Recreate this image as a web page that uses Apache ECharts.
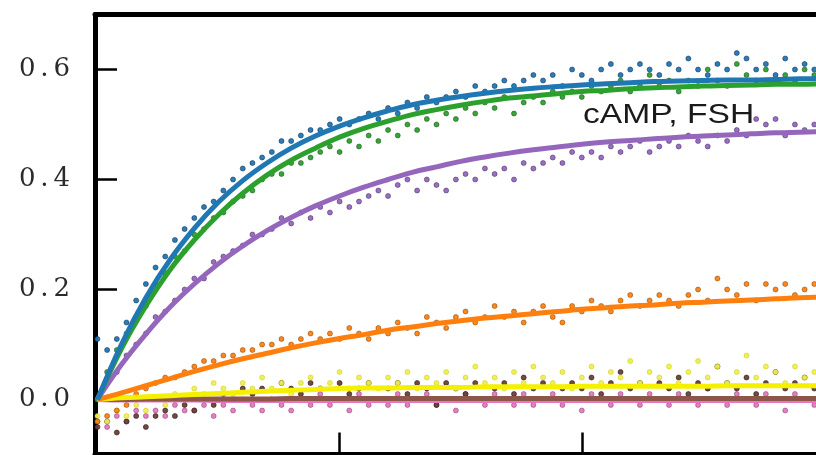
<!DOCTYPE html>
<html>
<head>
<meta charset="utf-8">
<script src="https://cdn.jsdelivr.net/npm/echarts@6/dist/echarts.min.js"></script>
<style>html,body{margin:0;padding:0;background:#fff}#c{width:816px;height:455px}</style>
</head>
<body>
<div id="c"></div>
<script>
// ---- data ----
const tScatter = [0,0.04,0.08,0.12,0.16,0.2,0.24,0.28,0.32,0.36,0.4,0.44,0.48,0.52,0.56,0.6,0.64,0.68,0.72,0.76,0.8,0.84,0.88,0.92,0.96,1.0,1.04,1.08,1.12,1.16,1.2,1.24,1.28,1.32,1.36,1.4,1.44,1.48,1.52,1.56,1.6,1.64,1.68,1.72,1.76,1.8,1.84,1.88,1.92,1.96,2.0,2.04,2.08,2.12,2.16,2.2,2.24,2.28,2.32,2.36,2.4,2.44,2.48,2.52,2.56,2.6,2.64,2.68,2.72,2.76,2.8,2.84,2.88,2.92,2.96];
const tLine = [0,0.1,0.2,0.3,0.4,0.5,0.6,0.7,0.8,0.9,1.0,1.1,1.2,1.3,1.4,1.5,1.6,1.7,1.8,1.9,2.0,2.1,2.2,2.3,2.4,2.5,2.6,2.7,2.8,2.9,3.0];

const blueDots   = [.11,.09,.11,.14,.18,.21,.24,.26,.29,.31,.33,.35,.36,.38,.40,.42,.43,.44,.45,.47,.47,.48,.49,.49,.50,.51,.50,.51,.52,.51,.53,.52,.54,.53,.55,.54,.55,.56,.55,.57,.56,.57,.58,.57,.58,.59,.58,.59,.57,.60,.59,.58,.60,.61,.59,.60,.61,.60,.59,.61,.60,.62,.60,.59,.61,.60,.63,.62,.60,.61,.59,.62,.60,.61,.60];
const greenDots  = [.00,.05,.09,.12,.15,.17,.21,.23,.26,.27,.30,.31,.33,.34,.36,.37,.38,.40,.41,.41,.43,.43,.44,.45,.46,.45,.47,.46,.48,.47,.49,.48,.50,.49,.51,.50,.52,.51,.53,.52,.54,.53,.55,.52,.54,.55,.54,.56,.55,.56,.55,.57,.56,.57,.58,.56,.57,.59,.57,.58,.56,.58,.57,.60,.58,.57,.61,.59,.58,.60,.58,.59,.58,.60,.59];
const purpleDots = [.00,.03,.05,.08,.10,.12,.15,.16,.18,.20,.22,.22,.25,.26,.27,.28,.30,.30,.31,.33,.32,.34,.33,.35,.34,.36,.35,.36,.37,.38,.37,.39,.40,.38,.40,.39,.38,.40,.41,.40,.42,.41,.42,.40,.43,.42,.43,.44,.43,.45,.44,.45,.44,.46,.45,.46,.47,.45,.46,.47,.46,.48,.47,.46,.48,.47,.49,.48,.51,.50,.51,.48,.50,.49,.50];
const orangeDots = [-.04,-.03,-.02,-.01,.01,.02,.03,.04,.04,.05,.06,.07,.07,.08,.08,.09,.09,.10,.10,.11,.10,.11,.12,.11,.12,.11,.13,.12,.11,.13,.12,.14,.13,.12,.15,.14,.13,.15,.16,.14,.15,.17,.15,.16,.14,.16,.17,.15,.14,.17,.16,.18,.17,.16,.18,.19,.17,.18,.19,.18,.17,.19,.20,.18,.22,.20,.19,.21,.18,.21,.20,.21,.19,.20,.21];
const yellowDots = [-.03,-.04,-.02,-.03,-.01,-.02,.00,-.01,.01,.00,.02,.01,.03,.02,.01,.03,.02,.04,.02,.03,.01,.03,.04,.02,.03,.05,.02,.04,.03,.02,.04,.03,.05,.02,.04,.03,.05,.02,.04,.06,.03,.04,.02,.05,.03,.06,.04,.03,.05,.02,.04,.06,.03,.05,.04,.07,.03,.05,.04,.06,.03,.05,.07,.04,.06,.03,.05,.08,.04,.06,.05,.03,.06,.04,.05];
const brownDots  = [-.05,-.04,-.06,-.04,-.03,-.05,-.03,-.02,-.03,-.01,-.02,.00,-.01,.01,.00,.02,.01,.02,.00,.03,.02,.01,.03,.02,.00,.03,.01,.02,.03,.00,.02,.03,.01,.03,.02,-.01,.03,.02,.01,.03,.00,.02,.03,.01,.04,.02,.03,.00,.02,.03,.02,.04,.01,.03,.05,.02,.03,.00,.03,.02,.04,.01,.03,.02,.06,.03,.02,.04,.01,.03,.05,.02,.03,.04,.02];
const pinkDots   = [-.04,-.05,-.03,-.04,-.02,-.03,-.02,-.03,-.01,-.02,-.02,-.01,-.03,-.01,-.02,.00,-.01,-.02,.00,-.01,-.02,.00,-.01,.01,-.01,.00,-.02,.01,-.01,.00,-.01,.01,-.01,.00,.01,-.01,.00,-.02,.01,.00,-.01,.01,.00,-.01,.01,-.01,.00,.01,-.01,.00,-.02,.01,.00,-.01,.01,.00,-.01,.01,.00,-.01,.01,.00,-.01,.02,.00,-.01,.01,.00,-.01,.01,.00,-.02,.01,.00,-.01];

const blueLine   = [0,.101,.185,.254,.311,.359,.398,.430,.457,.479,.497,.512,.525,.536,.544,.551,.557,.562,.566,.569,.572,.574,.576,.578,.579,.580,.581,.581,.582,.583,.583];
const greenLine  = [0,.093,.170,.236,.290,.336,.375,.408,.435,.457,.477,.493,.506,.518,.527,.535,.542,.548,.552,.556,.560,.562,.565,.567,.568,.570,.571,.572,.573,.573,.574];
const purpleLine = [0,.064,.119,.168,.210,.247,.279,.307,.331,.352,.370,.386,.400,.413,.423,.433,.441,.448,.454,.459,.464,.468,.471,.474,.477,.479,.481,.483,.485,.486,.487];
const orangeLine = [0,.012,.025,.038,.051,.063,.074,.084,.094,.103,.111,.118,.126,.132,.138,.143,.148,.152,.156,.160,.164,.167,.170,.172,.175,.177,.179,.181,.183,.185,.186];
const yellowLine = [0,.003,.005,.007,.009,.011,.013,.015,.017,.018,.020,.021,.021,.022,.022,.022,.023,.023,.023,.023,.024,.024,.024,.024,.024,.024,.025,.025,.025,.025,.025];
const brownLine  = [0,.000,.001,.001,.001,.001,.001,.001,.002,.002,.002,.002,.002,.002,.002,.002,.002,.002,.002,.002,.002,.002,.002,.002,.002,.002,.002,.002,.002,.002,.002];
const pinkLine   = [0,-.001,-.001,-.001,-.001,-.002,-.002,-.002,-.002,-.002,-.002,-.002,-.002,-.002,-.002,-.002,-.002,-.002,-.002,-.002,-.002,-.002,-.002,-.002,-.002,-.002,-.002,-.002,-.002,-.002,-.002];

const yTicks = [0, 0.2, 0.4, 0.6];
const xTicks = [1, 2];
const annotation = 'cAMP, FSH';

// ---- chart ----
const zip = (xs, ys) => ys.map((y, i) => [xs[i], y]);
const C = {
  blue: '#1f77b4', green: '#2ca02c', purple: '#9467bd', orange: '#ff7f0e',
  yellow: '#f4f000', brown: '#8c564b', pink: '#e377c2'
};

function dots(data, color, border) {
  return {
    type: 'scatter', data: zip(tScatter, data), symbolSize: 5, z: 2,
    itemStyle: { color: color, borderColor: border, borderWidth: 1, opacity: 0.95 },
    silent: true
  };
}
function line(data, color, z) {
  return {
    type: 'line', data: zip(tLine, data), smooth: 0.4, showSymbol: false, z: z,
    lineStyle: { color: color, width: 5 }, silent: true
  };
}

const spine = { show: true, onZero: false, lineStyle: { color: '#000', width: 5 } };

const chart = echarts.init(document.getElementById('c'), null, { renderer: 'canvas' });
chart.setOption({
  animation: false,
  backgroundColor: '#fff',
  grid: { left: 95, top: 14.5, right: 0, bottom: 0.5, show: false,
          containLabel: false, outerBoundsMode: 'none' },
  xAxis: [{
    type: 'value', min: -0.01, max: 2.967, position: 'bottom',
    axisLine: spine,
    splitLine: { show: false },
    axisTick: { show: true, inside: true, length: 22, customValues: xTicks,
      lineStyle: { color: '#000', width: 2.5 } },
    axisLabel: { show: true, customValues: xTicks, formatter: function () { return ''; } }
  }, {
    type: 'value', min: -0.01, max: 2.967, position: 'top',
    axisLine: spine,
    splitLine: { show: false },
    axisTick: { show: false },
    axisLabel: { show: false }
  }],
  yAxis: {
    type: 'value', min: -0.1, max: 0.7,
    axisLine: spine,
    splitLine: { show: false },
    axisTick: { show: true, inside: true, length: 22, customValues: yTicks,
      lineStyle: { color: '#000', width: 2.5 } },
    axisLabel: {
      show: true, customValues: yTicks, margin: 25,
      formatter: function (v) {
        const s = Number(v).toFixed(1);
        return '{n|' + s.charAt(0) + '}{d|.}{n|' + s.charAt(2) + '}';
      },
      rich: {
        n: { fontFamily: 'DejaVu Serif', fontSize: 26, color: '#2b2b2b' },
        d: { fontFamily: 'DejaVu Serif', fontSize: 26, color: '#2b2b2b', width: 18, align: 'center' }
      }
    }
  },
  series: [
    dots(pinkDots, C.pink, 'rgba(120,40,90,0.45)'),
    dots(brownDots, '#6b4039', 'rgba(40,20,20,0.6)'),
    dots(yellowDots, '#eeee55', 'rgba(200,200,0,0.5)'),
    dots(orangeDots, C.orange, 'rgba(120,60,0,0.5)'),
    dots(purpleDots, C.purple, 'rgba(60,30,90,0.5)'),
    dots(greenDots, C.green, 'rgba(20,70,20,0.5)'),
    dots(blueDots, C.blue, 'rgba(20,50,90,0.6)'),
    line(pinkLine, C.pink, 3),
    line(brownLine, C.brown, 4),
    line(yellowLine, C.yellow, 5),
    line(orangeLine, C.orange, 6),
    line(purpleLine, C.purple, 7),
    line(greenLine, C.green, 8),
    line(blueLine, C.blue, 9)
  ],
  graphic: [{
    type: 'text', x: 583, y: 115, scaleX: 1.2, z: 100,
    style: { text: annotation, fontFamily: 'Liberation Sans', fontSize: 28,
      fill: '#1a1a1a', align: 'left', verticalAlign: 'middle' }
  }]
});
</script>
</body>
</html>
